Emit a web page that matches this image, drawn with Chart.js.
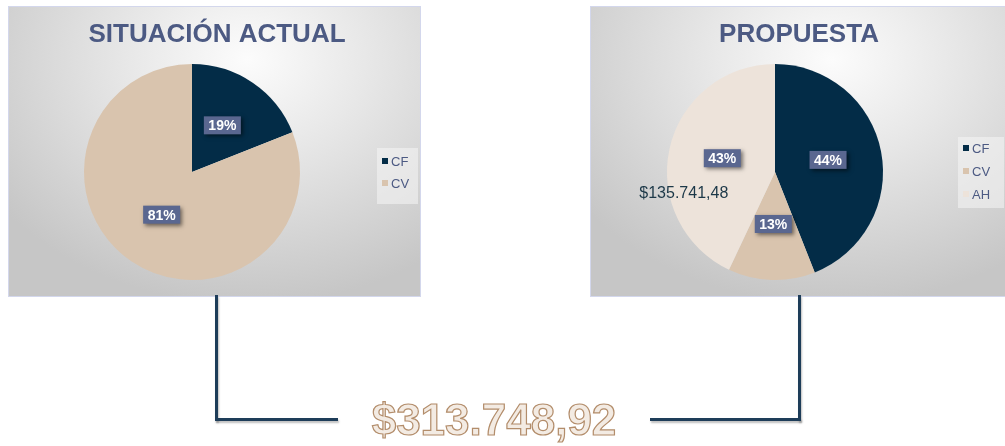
<!DOCTYPE html>
<html>
<head>
<meta charset="utf-8">
<script src="https://cdn.jsdelivr.net/npm/chart.js@4.4.1/dist/chart.umd.min.js"></script>
<style>
  body { margin: 0; width: 1005px; height: 446px; background: #fff; position: relative; overflow: hidden;
         font-family: "Liberation Sans", Arial, sans-serif; }
  .panel { position: absolute; top: 6px; height: 289px; border: 1px solid #d3d7ec;
           background: radial-gradient(ellipse 75% 85% at 58% 18%, #fcfcfc 0%, #e8e8e8 38%, #c6c6c6 100%); }
  #p1 { left: 8px; width: 411px; }
  #p2 { left: 590px; width: 415px; border-right: none; }
  .ln { position: absolute; background: #1e3d59; box-shadow: 1px 2px 2px rgba(0,0,0,.25); }
  #total { position: absolute; left: 0; width: 988px; top: 398px; text-align: center;
           font: bold 44px/44px "Liberation Sans", Arial, sans-serif; color: #f3ebe3;
           -webkit-text-stroke: 1.2px #b38d6b; }
</style>
</head>
<body>
<div class="panel" id="p1"><canvas id="actual" width="411" height="289"></canvas></div>
<div class="panel" id="p2"><canvas id="propuesta" width="414" height="289"></canvas></div>

<div class="ln" style="left:215px;top:295px;width:3px;height:126px"></div>
<div class="ln" style="left:215px;top:418px;width:123px;height:3px"></div>
<div class="ln" style="left:650px;top:418px;width:151px;height:3px"></div>
<div class="ln" style="left:798px;top:295px;width:3px;height:126px"></div>
<div id="total">$313.748,92</div>

<script>
// Situación actual
var actualLabels = ["CF", "CV"];
var actualValues = [19, 81];
var actualColors = ["#032c47", "#d9c4ae"];

// Propuesta
var propLabels = ["CF", "CV", "AH"];
var propValues = [44, 13, 43];
var propColors = ["#032c47", "#d9c4ae", "#ede3da"];
var ahAmount = "$135.741,48";

// titles, legend, data labels drawn on top of the pie
var panelDecor = {
  id: "panelDecor",
  afterDraw: function (chart, args, opts) {
    var ctx = chart.ctx;
    ctx.save();

    // title
    ctx.font = "bold 26px 'Liberation Sans', Arial, sans-serif";
    ctx.fillStyle = "#4c5a83";
    ctx.textAlign = "center";
    ctx.textBaseline = "alphabetic";
    ctx.fillText(opts.title, opts.titleX, 35);

    // legend
    var lg = opts.legend;
    ctx.fillStyle = "rgba(245,245,245,0.55)";
    ctx.fillRect(lg.x, lg.y, lg.w, lg.h);
    ctx.font = "13px 'Liberation Sans', Arial, sans-serif";
    ctx.textAlign = "left";
    ctx.textBaseline = "middle";
    var ds = chart.data.datasets[0];
    chart.data.labels.forEach(function (lab, i) {
      var y = lg.firstY + i * lg.step;
      ctx.fillStyle = ds.backgroundColor[i];
      ctx.fillRect(lg.x + 5, y - 3, 6, 6);
      ctx.fillStyle = "#4c5a83";
      ctx.fillText(lab, lg.x + 14, y + 1);
    });

    // percentage boxes
    var meta = chart.getDatasetMeta(0);
    var total = ds.data.reduce(function (a, b) { return a + b; }, 0);
    ctx.font = "bold 14px 'Liberation Sans', Arial, sans-serif";
    ctx.textAlign = "center";
    meta.data.forEach(function (arc, i) {
      var p = arc.tooltipPosition();
      var txt = Math.round(ds.data[i] / total * 100) + "%";
      var w = ctx.measureText(txt).width + 9;
      var h = 18;
      ctx.save();
      ctx.shadowColor = "rgba(0,0,0,0.5)";
      ctx.shadowBlur = 4;
      ctx.shadowOffsetX = 2;
      ctx.shadowOffsetY = 2;
      ctx.fillStyle = "#5a6790";
      ctx.fillRect(p.x - w / 2, p.y - 2 - h / 2, w, h);
      ctx.restore();
      ctx.fillStyle = "#ffffff";
      ctx.fillText(txt, p.x, p.y - 1);
    });

    // amount label on the AH slice
    if (opts.extra) {
      var arc = meta.data[opts.extra.index].tooltipPosition();
      ctx.font = "16px 'Liberation Sans', Arial, sans-serif";
      ctx.textAlign = "left";
      ctx.textBaseline = "alphabetic";
      ctx.fillStyle = "#1c3848";
      ctx.fillText(opts.extra.text, arc.x + opts.extra.dx, arc.y + opts.extra.dy);
    }
    ctx.restore();
  },
};

function makePie(id, labels, values, colors, padding, decor) {
  return new Chart(document.getElementById(id), {
    type: "pie",
    data: {
      labels: labels,
      datasets: [{ data: values, backgroundColor: colors, borderWidth: 0 }],
    },
    options: {
      responsive: false,
      animation: false,
      layout: { padding: padding },
      plugins: {
        legend: { display: false },
        tooltip: { enabled: false },
        panelDecor: decor,
      },
    },
    plugins: [panelDecor],
  });
}

makePie("actual", actualLabels, actualValues, actualColors,
  { left: 75, right: 120, top: 57, bottom: 16 },
  { title: "SITUACIÓN ACTUAL", titleX: 208,
    legend: { x: 368, y: 141, w: 41, h: 56, firstY: 154, step: 22 } });

makePie("propuesta", propLabels, propValues, propColors,
  { left: 76, right: 122, top: 57, bottom: 16 },
  { title: "PROPUESTA", titleX: 208,
    legend: { x: 367, y: 130, w: 46, h: 71, firstY: 141, step: 23 },
    extra: { index: 2, text: ahAmount, dx: -83, dy: 38 } });
</script>
</body>
</html>
